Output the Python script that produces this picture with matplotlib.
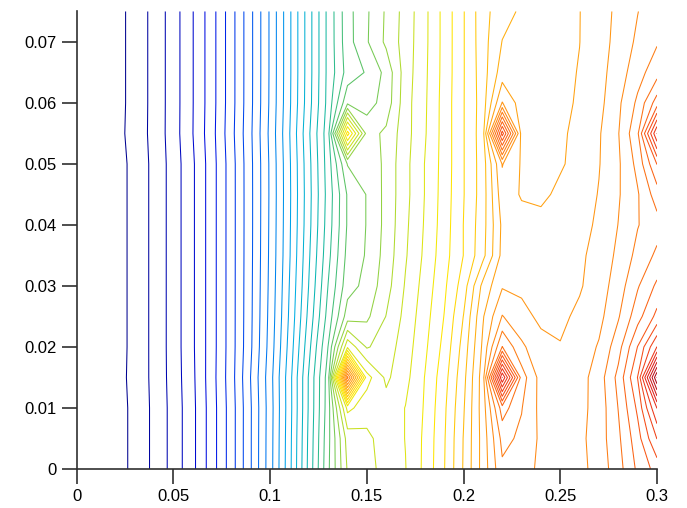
import numpy as np
import matplotlib
matplotlib.use("Agg")
import matplotlib.pyplot as plt
from matplotlib.colors import LinearSegmentedColormap

# grid coordinates
x_vals = np.round(np.arange(0, 0.3001, 0.01), 3)
y_vals = np.round(np.arange(0, 0.0751, 0.005), 4)

# field values: one row per y (0 .. 0.075), one column per x (0 .. 0.30)
z_rows = [
    [0, 0.12, 0.45, 1.31, 2.21, 3.37, 4.74, 6.54, 8.52, 10.93, 13.58, 16.68, 20.29, 23.8, 27.1, 27.68,
     28.34, 28.97, 30.24, 31.95, 34.09, 36.4, 38.8, 38.4, 37.8, 37.6, 37.7, 38.4, 39.6, 41.2, 42.4],
    [0, 0.12, 0.45, 1.31, 2.21, 3.37, 4.74, 6.54, 8.52, 10.93, 13.56, 16.64, 20.22, 23.7, 27.4, 27.8,
     28.4, 29.03, 30.2, 31.9, 34.05, 36.4, 39.3, 38.8, 37.8, 37.55, 37.75, 38.5, 39.8, 41.6, 44.03],
    [0, 0.12, 0.45, 1.31, 2.21, 3.37, 4.74, 6.54, 8.52, 10.92, 13.53, 16.58, 20.12, 23.55, 29.3, 28.4,
     28.4, 29.03, 30.1, 31.8, 33.9, 36.5, 40.5, 39.05, 37.7, 37.5, 37.7, 38.4, 40.03, 42.2, 46.03],
    [0, 0.13, 0.52, 1.36, 2.24, 3.42, 4.8, 6.6, 8.6, 11.03, 13.6, 16.6, 20.1, 23.5, 39.3, 29.4,
     27.8, 28.7, 30.03, 31.6, 33.7, 36.5, 47.03, 39.5, 37.6, 37.4, 37.6, 38.5, 40.3, 43.03, 51.03],
    [0, 0.13, 0.48, 1.34, 2.25, 3.44, 4.85, 6.57, 8.56, 10.86, 13.42, 16.35, 19.7, 23.03, 28.8, 26.9,
     27.5, 28.5, 29.8, 31.3, 33.4, 36.2, 40.03, 38.2, 37.3, 37.05, 37.4, 38.1, 39.6, 42.03, 45.03],
    [0, 0.13, 0.48, 1.34, 2.25, 3.44, 4.85, 6.57, 8.56, 10.82, 13.32, 16.15, 19.3, 22.4, 25.5, 25.8,
     27.03, 28.3, 29.6, 31.03, 33.03, 35.9, 38.05, 37.3, 36.8, 36.8, 37.2, 37.7, 38.9, 40.6, 42.3],
    [0, 0.13, 0.48, 1.34, 2.25, 3.44, 4.85, 6.57, 8.56, 10.8, 13.25, 16.03, 19.03, 22.03, 24.6, 25.3,
     26.6, 28.1, 29.4, 30.8, 32.5, 35.3, 36.9, 36.8, 36.7, 36.7, 36.9, 37.5, 38.5, 39.9, 41.2],
    [0, 0.13, 0.48, 1.34, 2.25, 3.44, 4.85, 6.57, 8.56, 10.78, 13.2, 15.9, 18.85, 21.7, 24.3, 25.1,
     26.4, 27.9, 29.2, 30.6, 32.02, 33.7, 36.3, 36.6, 36.5, 36.6, 36.8, 37.4, 38.2, 39.3, 40.2],
    [0, 0.13, 0.48, 1.34, 2.25, 3.44, 4.85, 6.57, 8.56, 10.77, 13.17, 15.85, 18.7, 21.5, 24.1, 25.05,
     26.3, 27.8, 29.1, 30.5, 32.02, 33.6, 36.2, 36.4, 36.3, 36.4, 36.6, 37.2, 38.02, 38.95, 39.6],
    [0, 0.13, 0.48, 1.34, 2.25, 3.44, 4.85, 6.57, 8.56, 10.77, 13.15, 15.82, 18.65, 21.4, 24.1, 25.05,
     26.3, 27.7, 29.03, 30.45, 31.95, 33.5, 36.6, 35.9, 35.8, 36.2, 36.5, 37.05, 37.9, 38.9, 40.5],
    [0, 0.13, 0.48, 1.34, 2.25, 3.44, 4.85, 6.57, 8.56, 10.78, 13.16, 15.85, 18.7, 21.5, 25.05, 25.1,
     26.3, 27.7, 29.03, 30.4, 31.95, 33.5, 37.05, 35.9, 35.7, 35.9, 36.3, 36.95, 37.85, 39.3, 42.03],
    [0, 0.14, 0.6, 1.42, 2.3, 3.52, 4.98, 6.66, 8.68, 10.85, 13.25, 15.95, 18.85, 21.6, 31.5, 25.6,
     26.2, 27.6, 28.9, 30.4, 31.95, 33.55, 43.5, 35.6, 35.6, 35.85, 36.25, 36.9, 37.95, 39.8, 46.03],
    [0, 0.15, 0.55, 1.40, 2.29, 3.51, 4.96, 6.61, 8.61, 10.78, 13.16, 15.83, 18.62, 21.35, 24.8, 24.6,
     25.4, 27.6, 28.85, 30.4, 31.95, 33.5, 37.05, 35.5, 35.55, 35.8, 36.1, 36.7, 37.8, 39.2, 41.5],
    [0, 0.15, 0.55, 1.40, 2.29, 3.51, 4.96, 6.61, 8.61, 10.77, 13.14, 15.8, 18.57, 21.29, 23.4, 24.1,
     25.3, 27.5, 28.8, 30.35, 31.94, 33.55, 35.5, 35.3, 35.5, 35.75, 36.05, 36.65, 37.5, 38.6, 39.6],
    [0, 0.15, 0.55, 1.40, 2.29, 3.51, 4.96, 6.61, 8.61, 10.77, 13.14, 15.8, 18.57, 21.29, 23.6, 24.9,
     26.2, 27.45, 28.75, 30.34, 31.94, 33.6, 35.03, 35.2, 35.45, 35.72, 35.99, 36.6, 37.3, 38.2, 38.9],
    [0, 0.15, 0.55, 1.40, 2.29, 3.51, 4.96, 6.61, 8.61, 10.77, 13.14, 15.8, 18.57, 21.29, 23.64, 24.86,
     26.14, 27.4, 28.74, 30.34, 31.94, 33.62, 34.63, 35.15, 35.43, 35.7, 35.98, 36.6, 37.2, 37.97, 38.7],
]

levels = np.arange(1, 52, 1)

# rainbow palette: navy -> blue -> teal -> green -> yellow -> orange -> dark red
palette_pos = [0.0, 0.125, 0.25, 0.33, 0.40, 0.47, 0.54, 0.60, 0.67, 0.74, 0.82, 0.91, 1.0]
palette_rgb = [(0.0, 0.0, 0.5), (0.0, 0.05, 0.9), (0.0, 0.45, 0.95), (0.0, 0.68, 0.9),
               (0.05, 0.72, 0.68), (0.35, 0.76, 0.4), (0.75, 0.87, 0.15), (1.0, 0.92, 0.0),
               (1.0, 0.72, 0.05), (1.0, 0.55, 0.08), (0.98, 0.35, 0.08), (0.9, 0.15, 0.1),
               (0.6, 0.0, 0.1)]
cmap = LinearSegmentedColormap.from_list("field", list(zip(palette_pos, palette_rgb)))

Z = np.array(z_rows, dtype=float)
X, Y = np.meshgrid(x_vals, y_vals)

fig = plt.figure(figsize=(6.87, 5.08), dpi=100)
ax = fig.add_axes([0.1116, 0.0768, 0.8447, 0.9006])
ax.contour(X, Y, Z, levels=levels, cmap=cmap, vmin=Z.min(), vmax=Z.max(), linewidths=0.75)

ax.set_xlim(0, 0.3)
ax.set_ylim(0, 0.075)
ax.set_xticks([0, 0.05, 0.1, 0.15, 0.2, 0.25, 0.3])
ax.set_xticklabels(["0", "0.05", "0.1", "0.15", "0.2", "0.25", "0.3"])
ax.set_yticks([0, 0.01, 0.02, 0.03, 0.04, 0.05, 0.06, 0.07])
ax.set_yticklabels(["0", "0.01", "0.02", "0.03", "0.04", "0.05", "0.06", "0.07"])
for s in ("top", "right"):
    ax.spines[s].set_visible(False)
for s in ("left", "bottom"):
    ax.spines[s].set_color("#303030")
    ax.spines[s].set_linewidth(1.2)
ax.tick_params(direction="out", length=10.5, width=1.2, color="#303030", pad=4,
               labelsize=12, labelcolor="black")
for lab in ax.get_xticklabels() + ax.get_yticklabels():
    lab.set_fontfamily("Liberation Sans")

fig.savefig("out.png", dpi=100)
